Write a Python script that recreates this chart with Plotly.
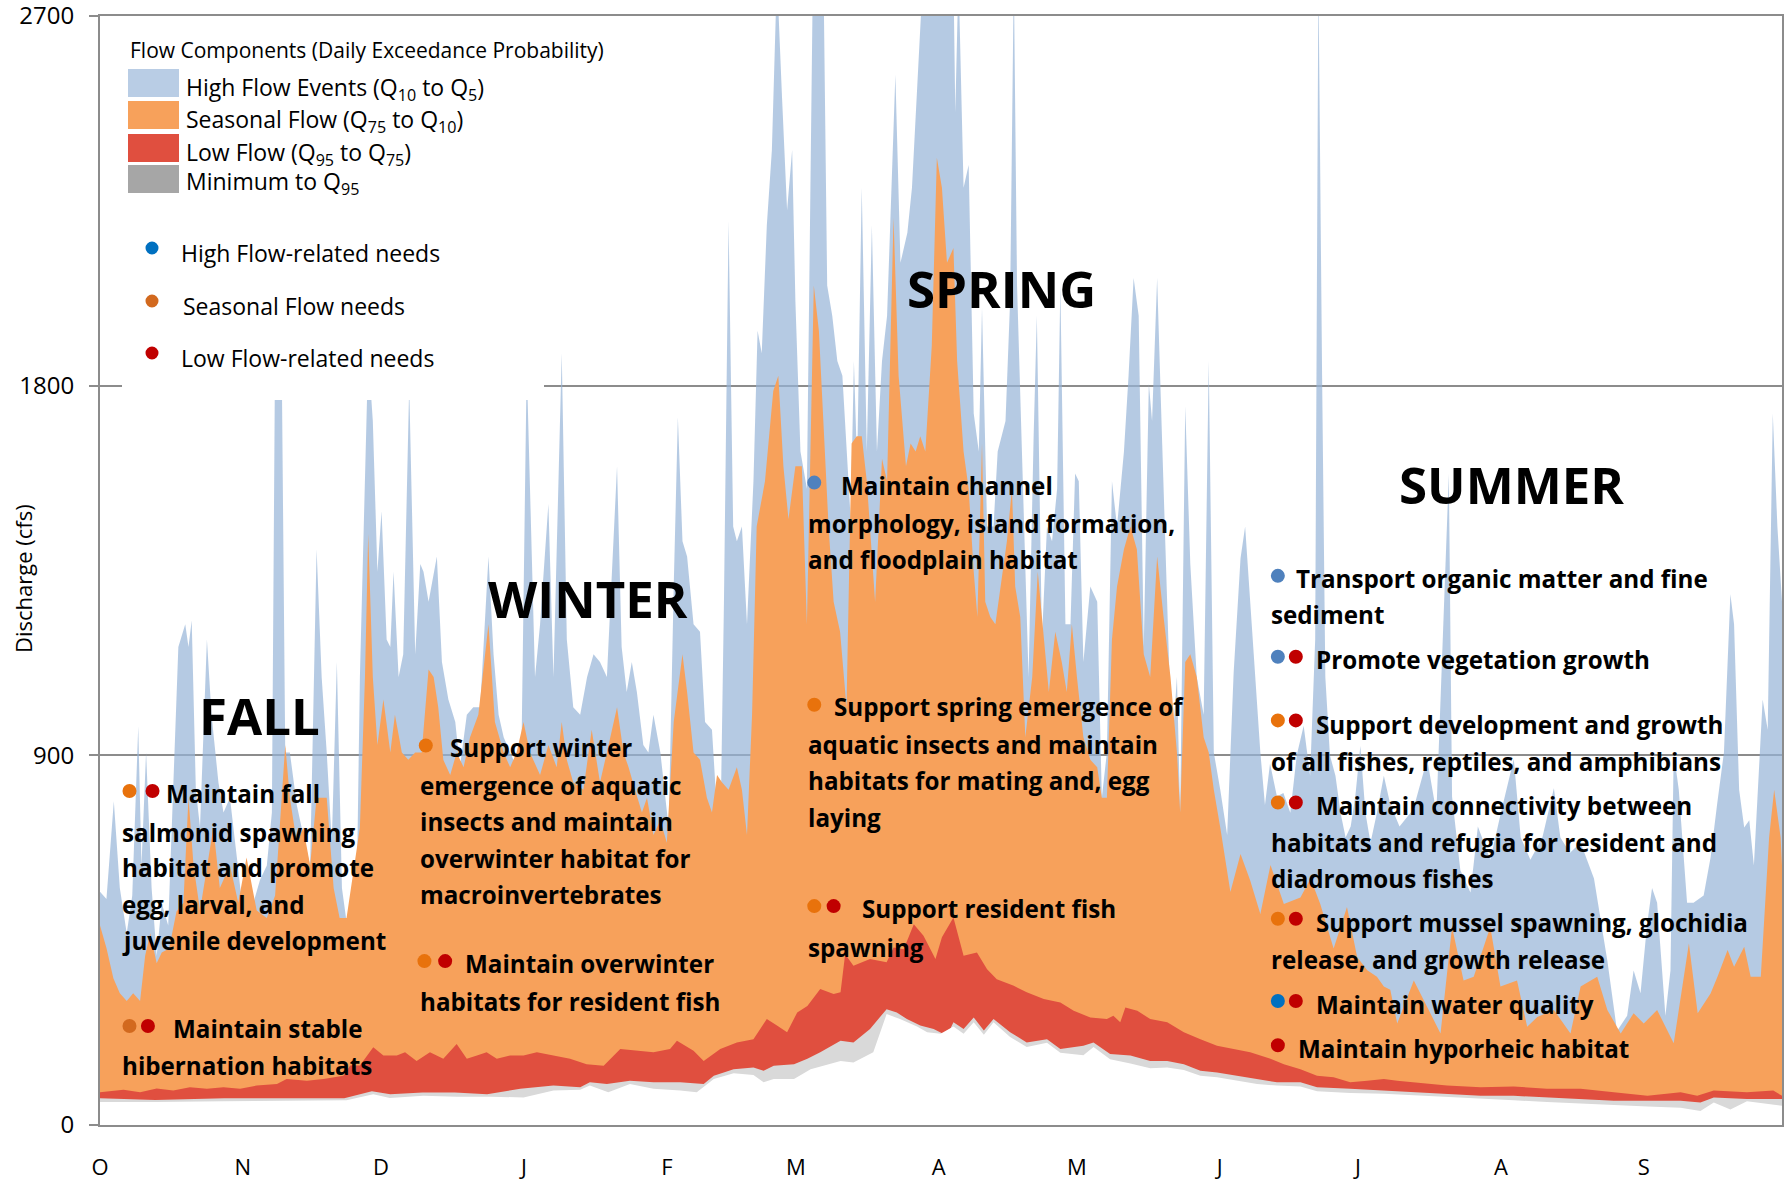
import plotly.graph_objects as go

# ---------------- data (water year, day 0 = 1 Oct) ----------------
months = ["O", "N", "D", "J", "F", "M", "A", "M", "J", "J", "A", "S"]
month_start_day = [0, 31, 61, 92, 123, 151, 182, 212, 243, 273, 304, 335]
y_ticks = [0, 900, 1800, 2700]

# Q5 daily exceedance flow (top of the high-flow band)
q5_day = [0, 1.4, 3, 4.3, 5.8, 7, 8.3, 9, 10, 11.2,
          12.3, 13.4, 14.8, 17, 18.5, 19.2, 19.9, 20.8, 21.7, 23.2,
          24.2, 25.7, 26.8, 28.2, 29.7, 30.8, 32.2, 33.3, 34.7, 36.2,
          37.3, 38, 39.4, 40.2, 41.2, 42.7, 44.1, 45.6, 47, 48.1,
          49.2, 50.3, 51.4, 52.5, 53.5, 54.6, 55.7, 56.4, 58.2, 59.2,
          60.2, 61.1, 62.2, 63, 63.7, 64.8, 65.8, 67.1, 68.4, 69.5,
          70.2, 71.3, 73.1, 74.2, 75.6, 77.1, 78.1, 79.6, 81, 82.5,
          84.3, 85.4, 86.5, 87.6, 89, 90.4, 91.5, 92.6, 94.4, 95.5,
          97.3, 98.4, 100.2, 101.3, 102.7, 104.2, 105.7, 107.1, 108.5, 110,
          112.2, 113.2, 114.3, 115.4, 116.5, 117.9, 119, 120.1, 121.6, 123.4,
          124.5, 125.4, 126.4, 127.4, 128.8, 130.2, 131.3, 132.8, 133.9, 134.6,
          135.4, 136.4, 137.4, 138.2, 139.3, 140.4, 141.8, 142.7, 143.6, 144.7,
          145.8, 146.9, 148, 149.1, 150.2, 150.9, 152, 153.4, 154.7, 157,
          157.8, 158.9, 160, 161.1, 162.9, 163.6, 164.3, 165.3, 166.4, 167.5,
          168.6, 169.7, 170.8, 172.6, 173.7, 175.2, 176.2, 177.3, 178.6, 185.2,
          185.6, 186.3, 187.4, 188.5, 189.6, 190.7, 191.4, 192.5, 193.9, 194.8,
          196.5, 197.5, 198.3, 199, 200, 201.5, 202.6, 203.3, 204.4, 205.5,
          206.6, 207.7, 208.4, 209.5, 210.6, 211.6, 212.4, 213.4, 214.9, 216.4,
          217.4, 218.5, 219.6, 220.7, 222.2, 223.2, 224.3, 225.4, 226.5, 227.6,
          228.3, 229.4, 230.5, 231.5, 232.6, 233.7, 234.4, 235.5, 236.6, 238,
          239.5, 240.6, 241.7, 243.1, 244.6, 246, 247.5, 248.5, 249.6, 250.7,
          251.8, 252.8, 253.9, 255.4, 256.8, 258.3, 259.7, 261.2, 262.6, 263.7,
          264.4, 265.2, 265.9, 266.9, 268.1, 269.2, 270.3, 271.4, 272.4, 273.5,
          274.6, 275.7, 277.1, 278.6, 280, 282, 285, 288, 290, 292.7,
          293.4, 295.2, 297.4, 299, 301.7, 304, 306.8, 308.3, 310.4, 313,
          315.5, 316.9, 319, 321.3, 324.2, 327.1, 329.2, 331.4, 332.8, 334.3,
          335.7, 336.8, 337.9, 339.7, 340.8, 341.5, 342.6, 344.4, 345.8, 348,
          349.5, 350.9, 352.4, 353.8, 354.6, 355.7, 356.8, 357.9, 358.9, 360.8,
          361.9, 363, 364, 365]
q5_cfs = [568, 550, 788, 577, 467, 559, 971, 632, 907, 577,
          412, 540, 486, 1164, 1219, 1164, 1228, 816, 724, 1182,
          999, 834, 761, 797, 651, 541, 577, 541, 596, 632,
          761, 1900, 1900, 907, 907, 779, 706, 632, 1402, 1091,
          907, 687, 1127, 577, 495, 522, 559, 1091, 1880, 1714,
          1347, 1494, 1182, 1164, 1347, 1091, 1146, 1800, 1146, 1366,
          1347, 1274, 1384, 1127, 1036, 981, 871, 999, 1017, 1017,
          1384, 1146, 999, 944, 907, 871, 944, 1850, 1091, 1219,
          1512, 1091, 1879, 1182, 1017, 999, 1091, 1146, 1127, 1091,
          1604, 1164, 1054, 1127, 1054, 925, 907, 999, 907, 724,
          1311, 1723, 1421, 1384, 1219, 1201, 981, 962, 761, 687,
          1274, 2200, 1457, 1421, 1457, 1219, 1567, 1934, 1879, 2190,
          2374, 2800, 2502, 2227, 2374, 2007, 1640, 1549, 2800, 2800,
          2044, 1970, 1860, 1824, 1475, 1860, 1604, 2282, 1640, 2190,
          1640, 1860, 1970, 2557, 2099, 2172, 2282, 2520, 2800, 2800,
          2465, 2800, 2282, 2337, 1732, 1640, 1989, 1457, 1457, 1640,
          1714, 2007, 2800, 2044, 1640, 1091, 1677, 1970, 1182, 1457,
          1421, 1549, 2044, 1219, 1219, 1586, 1567, 1127, 1311, 1274,
          797, 907, 1567, 1457, 1640, 1824, 2062, 1970, 1164, 1805,
          1714, 2062, 1659, 1274, 907, 1091, 761, 1750, 1366, 1091,
          999, 1860, 907, 816, 706, 1100, 1380, 1457, 1274, 1091,
          907, 779, 880, 800, 808, 760, 900, 972, 850, 1182,
          2800, 1824, 1091, 900, 850, 760, 700, 727, 800, 923,
          760, 687, 760, 850, 780, 727, 769, 891, 760, 1585,
          800, 620, 566, 727, 646, 760, 891, 700, 646, 700,
          820, 700, 663, 687, 600, 400, 229, 266, 376, 321,
          486, 577, 541, 266, 376, 907, 816, 541, 541, 559,
          651, 779, 907, 1292, 1219, 816, 724, 742, 632, 1036,
          962, 1732, 1457, 1274]

# Q10 daily exceedance flow (top of the seasonal band)
q10_day = [0, 1.4, 2.9, 4.3, 5.8, 7.2, 8.7, 9.8, 10.9, 12.3,
           13.4, 15, 16.6, 18.1, 19.2, 20.3, 21.7, 23.2, 24.6, 26,
           28.2, 30, 31.8, 34, 36.2, 38, 40.2, 41.2, 42.7, 44.1,
           45.6, 47, 48.5, 49.2, 50.7, 52, 53.5, 55, 56.4, 57.5,
           58.2, 59.2, 60.2, 61.5, 63, 64, 65.5, 66.9, 68.4, 69.8,
           71.3, 72.4, 73.4, 74.5, 76, 77.4, 78.9, 80.3, 82.1, 84.3,
           85.7, 87.6, 89, 90.4, 91.9, 93.3, 95.5, 97.3, 99.1, 100.2,
           101.3, 102.7, 104.9, 106.7, 108.5, 110, 112.2, 113.6, 114.7, 116.1,
           117.6, 118.7, 120.1, 121.6, 123, 124.5, 126.4, 127.4, 128.8, 130.2,
           131.7, 132.8, 133.9, 135, 136.4, 138.2, 139.3, 140.4, 141.5, 142.5,
           144.3, 146.1, 147.2, 148.3, 149.4, 150.9, 152.3, 153.4, 154.9, 156,
           157.2, 158.1, 159.2, 160.6, 162, 163.1, 164.2, 165.3, 166.4, 168.2,
           169.7, 170.8, 172.2, 173.3, 174.9, 175.9, 177, 178, 179.1, 180.5,
           181.6, 182.7, 183.8, 185.2, 186, 187.4, 188.5, 189.6, 190.4, 191.4,
           192.1, 193.2, 194.3, 195.4, 196.8, 197.9, 198.6, 199.7, 200.8, 202.3,
           203.5, 204.4, 205.9, 207.3, 208.7, 209.8, 210.9, 212, 213.4, 214.9,
           216.4, 217.4, 218.5, 219.6, 220.7, 222.2, 223.6, 225, 226.5, 227.9,
           229.4, 230.8, 232.3, 233.7, 234.4, 235.5, 236.6, 238, 239.5, 240.6,
           241.7, 243.1, 244.6, 245.3, 247.5, 249.6, 251.8, 254, 256.9, 260.5,
           262.7, 264.8, 267.7, 270.6, 272.8, 275, 277.1, 278.6, 280, 281.5,
           285.1, 287.3, 290.9, 293.4, 295.9, 298.1, 301.7, 303.9, 307.5, 309.7,
           311.9, 315.5, 319.1, 321.3, 324.9, 327.1, 330, 332.8, 335, 337.9,
           341.5, 344.8, 346.7, 349.5, 351, 353.2, 354.6, 356.8, 358.2, 360.4,
           362.2, 363.3, 364.7, 365]
q10_cfs = [486, 431, 357, 321, 302, 321, 302, 412, 467, 394,
           420, 430, 520, 541, 797, 632, 522, 632, 724, 577,
           632, 541, 651, 522, 504, 559, 925, 797, 687, 724,
           632, 797, 797, 797, 577, 504, 504, 614, 724, 1091,
           1439, 1091, 925, 1036, 907, 999, 907, 889, 907, 907,
           1109, 1091, 1017, 889, 852, 907, 871, 944, 999, 1219,
           981, 907, 871, 907, 981, 907, 852, 925, 871, 981,
           889, 834, 816, 962, 834, 907, 1017, 907, 871, 816,
           761, 797, 706, 742, 687, 981, 1146, 1054, 907, 889,
           797, 761, 852, 834, 816, 871, 816, 706, 999, 1457,
           1567, 1787, 1824, 1604, 1475, 1604, 1604, 1219, 2044, 1934,
           1677, 1457, 1274, 1201, 1017, 1659, 1677, 1677, 1567, 1274,
           1622, 1567, 2209, 1824, 1604, 1659, 1640, 1677, 1640, 1897,
           2355, 2282, 2099, 2135, 1860, 1640, 1549, 1347, 1237, 1659,
           1274, 1237, 1219, 1311, 1421, 1549, 1311, 1237, 944, 1091,
           1347, 1237, 1054, 1201, 1127, 1054, 1219, 1091, 944, 889,
           871, 797, 797, 1182, 1311, 1402, 1457, 1402, 1146, 1091,
           1384, 1237, 1091, 907, 761, 1127, 1146, 1091, 944, 907,
           816, 724, 614, 567, 660, 595, 514, 633, 538, 554,
           600, 538, 430, 531, 409, 377, 361, 337, 329, 247,
           352, 304, 223, 482, 352, 361, 482, 337, 352, 239,
           263, 280, 223, 337, 361, 280, 223, 272, 247, 280,
           199, 442, 272, 320, 361, 426, 385, 434, 361, 361,
           700, 816, 700, 632]

# Q75 daily exceedance flow (top of the low-flow band)
q75_day = [0, 5.1, 8.7, 12.3, 15.9, 19.5, 23.2, 26.8, 30.4, 34,
           38.4, 40.5, 44.9, 48.5, 52.8, 54.3, 56.4, 59.3, 61.5, 64.4,
           66.2, 68.7, 71.6, 74.5, 77.4, 79.6, 81.8, 83.9, 86.1, 89,
           91.9, 94.8, 98.4, 102, 105.6, 109.3, 112.9, 116.5, 120.1, 123.7,
           125.2, 128.8, 131, 134.6, 138.2, 141.8, 144.7, 146.9, 149.1, 151.3,
           153.5, 156.3, 159.2, 160.7, 161.7, 163.5, 167.1, 170.7, 172.2, 174.4,
           176.6, 178.7, 181.3, 182.7, 185.2, 187.4, 190.3, 192.5, 194.6, 198.3,
           201.1, 204.8, 208.4, 211.3, 214.9, 218.5, 219.9, 221.4, 222.5, 225.1,
           227.9, 231.6, 235.2, 238.8, 242.4, 246, 249.6, 254, 256.9, 260.5,
           264.1, 267.7, 271.3, 275, 278.6, 281.5, 285.1, 292.3, 299.6, 306.8,
           314, 321.3, 328.5, 335.8, 343, 346.6, 350.2, 357.4, 363.1, 365]
q75_cfs = [80, 86, 80, 89, 84, 92, 88, 92, 88, 96,
           100, 112, 108, 112, 120, 145, 145, 189, 169, 169,
           177, 156, 177, 161, 197, 161, 169, 177, 161, 169,
           169, 177, 169, 161, 148, 144, 185, 181, 177, 185,
           205, 181, 156, 185, 201, 209, 258, 242, 226, 274,
           290, 331, 319, 323, 416, 388, 404, 396, 432, 428,
           489, 461, 404, 457, 505, 412, 420, 379, 355, 339,
           323, 307, 298, 278, 262, 258, 266, 250, 286, 278,
           258, 250, 226, 209, 193, 185, 177, 161, 148, 136,
           120, 116, 104, 108, 112, 108, 104, 96, 92, 94,
           88, 88, 80, 71, 80, 71, 84, 80, 84, 71]

# Q95 daily exceedance flow (top of the minimum band)
q95_day = [0, 12, 27, 41, 53, 59, 63, 70, 77, 84,
           91.2, 98.4, 104.2, 106.3, 110, 115, 120.1, 125.9, 131, 133.2,
           137.5, 141.8, 144, 146.2, 150.6, 153.5, 156.3, 160.7, 163.5, 167.1,
           170.7, 172.9, 175.1, 178, 180.9, 183.8, 185.2, 187.4, 189.6, 191.8,
           193.9, 197.5, 201.1, 205.5, 208.4, 213.4, 215.6, 219.2, 223.6, 227.9,
           231.6, 235.2, 238.8, 242.4, 246.7, 251.1, 255.4, 260.5, 264.1, 271.3,
           278.6, 285.1, 292.3, 299.6, 306.8, 314, 321.3, 328.5, 335.8, 343,
           347.3, 350.2, 357.4, 365]
q95_cfs = [65, 61, 65, 65, 65, 82, 75, 79, 79, 75,
           88, 96, 92, 104, 100, 108, 104, 104, 100, 120,
           136, 140, 132, 144, 148, 161, 177, 205, 201, 234,
           282, 274, 258, 242, 234, 217, 250, 234, 262, 230,
           258, 226, 201, 209, 185, 193, 201, 173, 169, 156,
           156, 148, 132, 128, 120, 112, 104, 104, 92, 88,
           84, 80, 75, 71, 71, 67, 63, 59, 59, 59,
           55, 67, 63, 63]

# Daily minimum flow
min_day = [0, 12.3, 26.8, 41.2, 53.5, 59.3, 62.9, 70.2, 77.4, 84.7,
           91.9, 98.4, 104.2, 106.3, 110.3, 115, 120.1, 125.9, 129.5, 133.2,
           137.5, 141.8, 144, 146.2, 150.6, 154.2, 157, 160.7, 163.5, 167.8,
           170.7, 173.6, 177.3, 179.5, 182.4, 185.2, 187.4, 189.6, 191.8, 193.9,
           197.5, 201.1, 205.5, 208.4, 213.4, 215.6, 219.2, 223.6, 227.9, 231.6,
           235.2, 238.8, 242.4, 246.7, 251.1, 255.4, 260.5, 264.1, 271.3, 278.6,
           285.1, 292.3, 299.6, 306.8, 314, 321.3, 328.5, 335.8, 343, 347.3,
           350.2, 353.8, 357.4, 365]
min_cfs = [56, 56, 58, 60, 60, 75, 66, 71, 69, 69,
           67, 84, 86, 96, 80, 100, 88, 84, 80, 112,
           126, 122, 104, 112, 112, 136, 144, 156, 152, 177,
           270, 258, 240, 226, 222, 240, 222, 250, 220, 250,
           214, 190, 200, 176, 170, 190, 160, 150, 138, 140,
           134, 120, 116, 108, 100, 96, 94, 82, 78, 76,
           72, 68, 63, 60, 56, 52, 48, 45, 42, 34,
           55, 38, 58, 47]

# ---------------- styling ----------------
BLUE = "rgba(149,179,215,0.7)"
BLUE_KEY = "#B9CDE5"
ORANGE = "#F7A15B"
RED = "#E04F3F"
GREY = "#D9D9D9"
GREY_KEY = "#A6A6A6"
AXIS = "#8C8C8C"
DOT_BLUE = "#4F81BD"
DOT_BLUE2 = "#0070C0"
DOT_ORANGE = "#E8720C"
DOT_ORANGE2 = "#D2691E"
DOT_RED = "#C00000"
FONT = "Open Sans, sans-serif"

W, H = 1785, 1181
ML, MR, MT, MB = 100, 3, 16, 56


def px(x):
    return (x - ML) / (W - ML - MR)


def py(y):
    return 1 - (y - MT) / (H - MT - MB)


fig = go.Figure()

# Bands painted from the largest flow down so each covers the one beneath
for days, cfs, col in [(q5_day, q5_cfs, BLUE), (q10_day, q10_cfs, ORANGE),
                       (q75_day, q75_cfs, RED), (q95_day, q95_cfs, GREY),
                       (min_day, min_cfs, "white")]:
    fig.add_trace(go.Scatter(x=days, y=cfs, mode="lines",
                             line=dict(width=0, color=col), fill="tozeroy",
                             fillcolor=col, hoverinfo="skip", showlegend=False))

shapes = []
annotations = []

# ---- legend panel ----
shapes.append(dict(type="rect", xref="paper", yref="paper", layer="above",
                   x0=px(122), x1=px(544), y0=py(400), y1=py(17.5),
                   fillcolor="white", line=dict(width=0)))
annotations.append(dict(xref="paper", yref="paper", x=px(128), y=py(49.5),
                        xanchor="left", yanchor="middle", showarrow=False,
                        text="Flow Components (Daily Exceedance Probability)",
                        font=dict(family=FONT, size=21, color="black")))
key_rows = [
    (69, 97, BLUE_KEY, "High Flow Events (Q<sub>10</sub> to Q<sub>5</sub>)", 88),
    (101, 129, ORANGE, "Seasonal Flow (Q<sub>75</sub> to Q<sub>10</sub>)", 120),
    (134, 162, RED, "Low Flow (Q<sub>95</sub> to Q<sub>75</sub>)", 153),
    (165, 193, GREY_KEY, "Minimum to Q<sub>95</sub>", 182),
]
for y0, y1, col, label, ty in key_rows:
    shapes.append(dict(type="rect", xref="paper", yref="paper", layer="above",
                       x0=px(128), x1=px(179), y0=py(y1), y1=py(y0),
                       fillcolor=col, line=dict(width=0)))
    annotations.append(dict(xref="paper", yref="paper", x=px(184), y=py(ty),
                            xanchor="left", yanchor="middle", showarrow=False,
                            text=label,
                            font=dict(family=FONT, size=23, color="black")))

need_rows = [(248, DOT_BLUE2, "High Flow-related needs", 179),
             (301, DOT_ORANGE2, "Seasonal Flow needs", 181),
             (353, DOT_RED, "Low Flow-related needs", 179)]
for cy, col, label, tx in need_rows:
    shapes.append(dict(type="circle", xref="paper", yref="paper", layer="above",
                       xsizemode="pixel", ysizemode="pixel",
                       xanchor=px(152), yanchor=py(cy),
                       x0=-6.5, x1=6.5, y0=-6.5, y1=6.5,
                       fillcolor=col, line=dict(width=0)))
    annotations.append(dict(xref="paper", yref="paper", x=px(tx), y=py(cy + 5),
                            xanchor="left", yanchor="middle", showarrow=False,
                            text=label,
                            font=dict(family=FONT, size=23, color="black")))

# ---- y-axis title ----
annotations.append(dict(xref="paper", yref="paper", x=px(23), y=py(579),
                        xanchor="center", yanchor="middle", showarrow=False,
                        textangle=-90, text="Discharge (cfs)",
                        font=dict(family=FONT, size=22, color="black")))

# ---- season headings ----
for day, cfs, label in [(34.6, 998, "FALL"), (105.8, 1284, "WINTER"),
                        (195.7, 2039, "SPRING"), (306.2, 1561, "SUMMER")]:
    annotations.append(dict(x=day, y=cfs, xanchor="center", yanchor="middle",
                            showarrow=False, text="<b>%s</b>" % label,
                            font=dict(family=FONT, size=51, color="black")))

# ---- flow-need notes (day, cfs, text) ----
notes = [
    (13.8, 807, "Maintain fall"), (4.4, 713, "salmonid spawning"),
    (4.4, 627, "habitat and promote"), (4.4, 538, "egg, larval, and"),
    (4.4, 449, "juvenile development"),
    (15.3, 236, "Maintain stable"), (4.4, 144, "hibernation habitats"),
    (75.6, 918, "Support winter"), (69, 826, "emergence of aquatic"),
    (69, 738, "insects and maintain"), (69, 649, "overwinter habitat for"),
    (69, 560, "macroinvertebrates"),
    (78.8, 394, "Maintain overwinter"), (69, 300, "habitats for resident fish"),
    (160.4, 1556, "Maintain channel"),
    (153.2, 1464, "morphology, island formation,"),
    (153.2, 1378, "and floodplain habitat"),
    (158.9, 1018, "Support spring emergence of"),
    (153.2, 926, "aquatic insects and maintain"),
    (153.2, 838, "habitats for mating and, egg"),
    (153.2, 749, "laying"),
    (164.9, 527, "Support resident fish"), (153.2, 433, "spawning"),
    (259.0, 1331, "Transport organic matter and fine"),
    (253.6, 1243, "sediment"),
    (263.5, 1134, "Promote vegetation growth"),
    (263.5, 976, "Support development and growth"),
    (253.6, 885, "of all fishes, reptiles, and amphibians"),
    (263.5, 779, "Maintain connectivity between"),
    (253.6, 688, "habitats and refugia for resident and"),
    (253.6, 599, "diadromous fishes"),
    (263.5, 494, "Support mussel spawning, glochidia"),
    (253.6, 402, "release, and growth release"),
    (263.5, 294, "Maintain water quality"),
    (259.5, 186, "Maintain hyporheic habitat"),
]
for day, cfs, text in notes:
    annotations.append(dict(x=day, y=cfs, xanchor="left", yanchor="middle",
                            showarrow=False, text="<b>%s</b>" % text,
                            font=dict(family=FONT, size=24.2, color="black")))

# ---- need markers (day, cfs, colour) ----
markers = [
    (6.4, 813, DOT_ORANGE), (11.4, 813, DOT_RED),
    (6.4, 241, DOT_ORANGE2), (10.4, 241, DOT_RED),
    (70.7, 924, DOT_ORANGE),
    (70.4, 399, DOT_ORANGE), (74.9, 399, DOT_RED),
    (155, 1564, DOT_BLUE),
    (155, 1023, DOT_ORANGE),
    (155, 533, DOT_ORANGE), (159.2, 533, DOT_RED),
    (255.6, 1337, DOT_BLUE),
    (255.6, 1140, DOT_BLUE), (259.5, 1140, DOT_RED),
    (255.6, 985, DOT_ORANGE), (259.5, 985, DOT_RED),
    (255.6, 785, DOT_ORANGE), (259.5, 785, DOT_RED),
    (255.6, 502, DOT_ORANGE), (259.5, 502, DOT_RED),
    (255.6, 302, DOT_BLUE2), (259.5, 302, DOT_RED),
    (255.6, 194, DOT_RED),
]
for day, cfs, col in markers:
    shapes.append(dict(type="circle", xref="x", yref="y", layer="above",
                       xsizemode="pixel", ysizemode="pixel",
                       xanchor=day, yanchor=cfs,
                       x0=-7, x1=7, y0=-7, y1=7,
                       fillcolor=col, line=dict(width=0)))

fig.update_layout(
    width=W, height=H,
    margin=dict(l=ML, r=MR, t=MT, b=MB, autoexpand=False),
    paper_bgcolor="white", plot_bgcolor="white",
    shapes=shapes, annotations=annotations,
    xaxis=dict(range=[0, 365], tickmode="array", tickvals=month_start_day,
               ticktext=months, showgrid=False, zeroline=False,
               showline=True, linecolor=AXIS, linewidth=2, mirror=True,
               ticks="", ticklabelstandoff=22, automargin=False,
               tickfont=dict(family=FONT, size=22, color="black")),
    yaxis=dict(range=[0, 2700], tickmode="array", tickvals=y_ticks,
               showgrid=True, gridcolor=AXIS, gridwidth=1.5, zeroline=False,
               showline=True, linecolor=AXIS, linewidth=2, mirror=True,
               ticks="outside", ticklen=9, tickcolor=AXIS, tickwidth=1.5,
               ticklabelstandoff=10, ticklabeloverflow="allow",
               automargin=False,
               tickfont=dict(family=FONT, size=24, color="black")),
)

fig.write_html("out.html")
